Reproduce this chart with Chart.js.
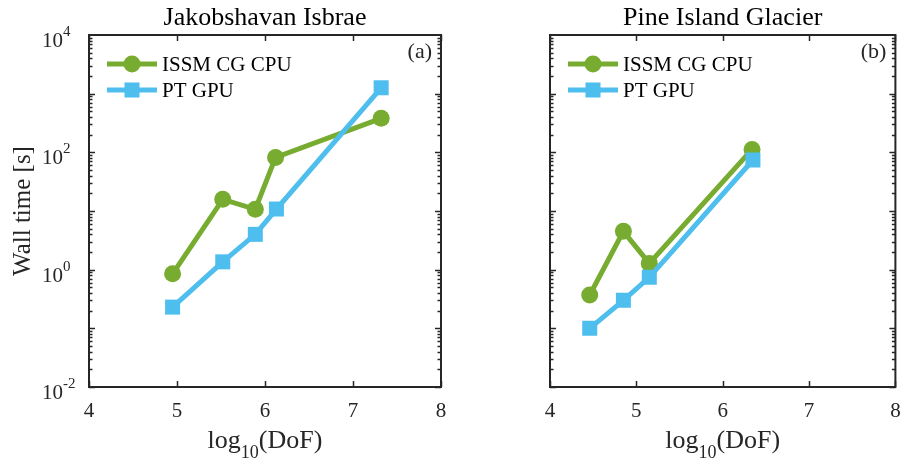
<!DOCTYPE html>
<html>
<head>
<meta charset="utf-8">
<script src="https://cdn.jsdelivr.net/npm/chart.js@4/dist/chart.umd.min.js"></script>
<style>
  body { margin: 0; background: #fff; width: 906px; height: 461px; overflow: hidden; position: relative; }
  canvas { position: absolute; top: 0; }
  #chartJak { left: 0; }
  #chartPig { left: 453px; }
</style>
</head>
<body>
<canvas id="chartJak" width="453" height="461"></canvas>
<canvas id="chartPig" width="453" height="461"></canvas>
<script>
(function(){
  // values
  const seriesNames = ["ISSM CG CPU", "PT GPU"];
  const jakDof = [4.95, 5.52, 5.89, 6.12, 7.32];
  const jakIssm = [0.85, 15.8, 10.7, 82, 380];
  const jakPtDof = [4.95, 5.52, 5.89, 6.13, 7.32];
  const jakPt = [0.23, 1.36, 4.0, 10.8, 1260];
  const pigDof = [4.46, 4.85, 5.15, 6.34];
  const pigIssm = [0.37, 4.5, 1.28, 112];
  const pigPtDof = [4.46, 4.85, 5.15, 6.35];
  const pigPt = [0.1, 0.30, 0.74, 74];
  const xTicks = [4, 5, 6, 7, 8];
  const yExponents = [-2, 0, 2, 4];

  const GREEN = "#77AC30";
  const BLUE = "#4DBEEE";
  const AXIS = "#262626";
  const FONT = "'Liberation Serif', 'Times New Roman', serif";

  function seg(ctx, x1, y1, x2, y2){
    ctx.beginPath(); ctx.moveTo(x1, y1); ctx.lineTo(x2, y2); ctx.stroke();
  }

  const framePlugin = {
    id: "frame",
    afterDraw(chart, args, o){
      const { ctx, chartArea: a, scales: { x, y } } = chart;
      ctx.save();
      ctx.strokeStyle = AXIS;
      ctx.lineWidth = 2;
      ctx.strokeRect(a.left, a.top, a.right - a.left, a.bottom - a.top);

      // tick marks, inside the box on all four sides
      ctx.lineWidth = 1.5;
      xTicks.forEach(v => {
        const px = Math.round(x.getPixelForValue(v)) + 0.5;
        seg(ctx, px, a.bottom, px, a.bottom - 6);
        seg(ctx, px, a.top, px, a.top + 6);
      });
      for (let e = -2; e < 4; e++){
        for (let m = 1; m <= 9; m++){
          const py = Math.round(y.getPixelForValue(m * Math.pow(10, e))) + 0.5;
          const len = m === 1 ? 6 : 3.5;
          seg(ctx, a.left, py, a.left + len, py);
          seg(ctx, a.right, py, a.right - len, py);
        }
      }

      // x tick labels
      ctx.fillStyle = AXIS;
      ctx.font = `21px ${FONT}`;
      ctx.textAlign = "center";
      ctx.textBaseline = "alphabetic";
      xTicks.forEach(v => ctx.fillText(String(v), x.getPixelForValue(v), 417));

      // y tick labels 10^n
      if (o.yLabels){
        yExponents.forEach(e => {
          const py = y.getPixelForValue(Math.pow(10, e));
          ctx.font = `21px ${FONT}`;
          ctx.textAlign = "right";
          ctx.fillText("10", 63, py + 12);
          ctx.font = `15px ${FONT}`;
          ctx.textAlign = "left";
          ctx.fillText(e < 0 ? "-" + (-e) : String(e), 63, py + 1);
        });
        // y axis title
        ctx.save();
        ctx.translate(30, (a.top + a.bottom) / 2);
        ctx.rotate(-Math.PI / 2);
        ctx.font = `25px ${FONT}`;
        ctx.textAlign = "center";
        ctx.fillText("Wall time [s]", 0, 0);
        ctx.restore();
      }

      // x axis title log10(DoF)
      const cx = (a.left + a.right) / 2;
      ctx.textAlign = "left";
      ctx.font = `26px ${FONT}`;
      const w1 = ctx.measureText("log").width;
      const w3 = ctx.measureText("(DoF)").width;
      ctx.font = `18px ${FONT}`;
      const w2 = ctx.measureText("10").width;
      let sx = cx - (w1 + w2 + w3) / 2;
      ctx.font = `26px ${FONT}`;
      ctx.fillText("log", sx, 448);
      ctx.font = `18px ${FONT}`;
      ctx.fillText("10", sx + w1, 458);
      ctx.font = `26px ${FONT}`;
      ctx.fillText("(DoF)", sx + w1 + w2, 448);

      // title
      ctx.fillStyle = "#000";
      ctx.textAlign = "center";
      ctx.font = `26px ${FONT}`;
      ctx.fillText(o.title, cx, 25);

      // panel tag
      ctx.fillStyle = AXIS;
      ctx.textAlign = "right";
      ctx.font = `22px ${FONT}`;
      ctx.fillText(o.tag, a.right - 9, 58);

      // legend
      const lx = a.left + 18;
      const rows = [
        { name: seriesNames[0], color: GREEN, shape: "circle", y: 64 },
        { name: seriesNames[1], color: BLUE, shape: "rect", y: 90 }
      ];
      rows.forEach(r => {
        ctx.strokeStyle = r.color;
        ctx.fillStyle = r.color;
        ctx.lineWidth = 5;
        seg(ctx, lx, r.y, lx + 50, r.y);
        if (r.shape === "circle"){
          ctx.beginPath(); ctx.arc(lx + 25, r.y, 8.5, 0, Math.PI * 2); ctx.fill();
        } else {
          ctx.fillRect(lx + 25 - 7.5, r.y - 7.5, 15, 15);
        }
        ctx.fillStyle = "#000";
        ctx.textAlign = "left";
        ctx.font = `21px ${FONT}`;
        ctx.fillText(r.name, lx + 55, r.y + 7);
      });
      ctx.restore();
    }
  };

  function points(xs, ys){
    return xs.map((v, i) => ({ x: v, y: ys[i] }));
  }

  function makeChart(id, cfg){
    const ctx = document.getElementById(id).getContext("2d");
    return new Chart(ctx, {
      type: "line",
      data: {
        datasets: [
          {
            label: seriesNames[0],
            data: points(cfg.dof, cfg.issm),
            borderColor: GREEN, backgroundColor: GREEN,
            borderWidth: 5, pointStyle: "circle", pointRadius: 8.5,
            pointBorderWidth: 0, order: 1
          },
          {
            label: seriesNames[1],
            data: points(cfg.ptDof, cfg.pt),
            borderColor: BLUE, backgroundColor: BLUE,
            borderWidth: 5, pointStyle: "rect", pointRadius: 10.6,
            pointBorderWidth: 0, order: 0
          }
        ]
      },
      options: {
        responsive: false,
        animation: false,
        devicePixelRatio: 1,
        layout: { padding: { top: 35, right: cfg.padRight, left: 0, bottom: 0 } },
        plugins: {
          legend: { display: false },
          tooltip: { enabled: false },
          frame: { title: cfg.title, tag: cfg.tag, yLabels: cfg.yLabels }
        },
        scales: {
          x: {
            type: "linear", min: 4, max: 8,
            grid: { display: false }, border: { display: false },
            ticks: { display: false },
            afterFit: s => { s.height = 74; }
          },
          y: {
            type: "logarithmic", min: 0.01, max: 10000,
            grid: { display: false }, border: { display: false },
            ticks: { display: false },
            afterFit: s => { s.width = cfg.leftW; }
          }
        }
      },
      plugins: [framePlugin]
    });
  }

  makeChart("chartJak", {
    dof: jakDof, issm: jakIssm, ptDof: jakPtDof, pt: jakPt,
    title: "Jakobshavan Isbrae", tag: "(a)", yLabels: true, leftW: 89, padRight: 12
  });
  makeChart("chartPig", {
    dof: pigDof, issm: pigIssm, ptDof: pigPtDof, pt: pigPt,
    title: "Pine Island Glacier", tag: "(b)", yLabels: false, leftW: 97, padRight: 5
  });
})();
</script>
</body>
</html>
